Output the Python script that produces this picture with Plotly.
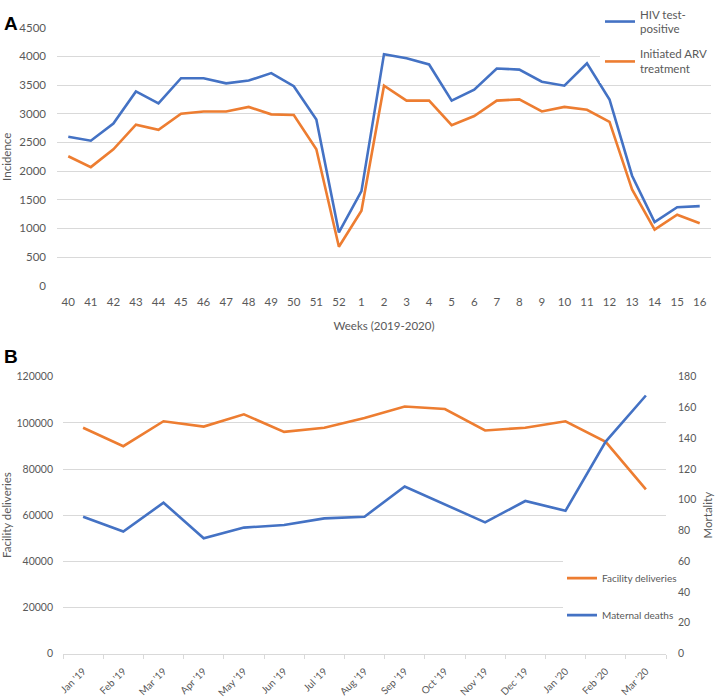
import plotly.graph_objects as go

# ---- Panel A data ----
weeks = ["40", "41", "42", "43", "44", "45", "46", "47", "48", "49", "50", "51", "52",
         "1", "2", "3", "4", "5", "6", "7", "8", "9", "10", "11", "12", "13", "14", "15", "16"]
hiv_positive = [2600, 2530, 2830, 3390, 3180, 3620, 3620, 3530, 3580, 3710, 3480, 2900, 930,
                1650, 4040, 3970, 3860, 3230, 3420, 3790, 3770, 3560, 3490, 3880, 3250, 1920, 1110, 1370, 1390]
arv_initiated = [2260, 2070, 2380, 2810, 2720, 3000, 3040, 3040, 3120, 2990, 2980, 2380, 680,
                 1310, 3490, 3230, 3230, 2800, 2960, 3230, 3250, 3040, 3120, 3070, 2860, 1680, 980, 1240, 1090]

# ---- Panel B data ----
months = ["Jan '19", "Feb '19", "Mar '19", "Apr '19", "May '19", "Jun '19", "Jul '19", "Aug '19",
          "Sep '19", "Oct '19", "Nov '19", "Dec '19", "Jan '20", "Feb '20", "Mar '20"]
facility_deliveries = [97900, 89900, 100700, 98400, 103700, 96100, 97900, 102100,
                       107100, 106000, 96700, 97900, 100700, 91800, 71200]
maternal_deaths = [88.9, 79.3, 98.1, 75.0, 81.9, 83.6, 87.9, 89.0,
                   108.6, 96.9, 85.3, 99.2, 92.8, 137.8, 167.8]

BLUE = "#4472C4"
ORANGE = "#ED7D31"
GRID = "#D9D9D9"
TXT = "#595959"
FONT = "Lato, Open Sans, sans-serif"

W, H = 718, 700
def px_x(p):
    return p / W
def px_y(p):
    return 1 - p / H

fig = go.Figure()

fig.add_trace(go.Scatter(x=weeks, y=hiv_positive, mode="lines", name="HIV test-<br>positive",
                         line=dict(color=BLUE, width=2.6), xaxis="x", yaxis="y",
                         legend="legend", legendgroup="hiv"))
fig.add_trace(go.Scatter(x=weeks, y=arv_initiated, mode="lines", name="Initiated ARV<br>treatment",
                         line=dict(color=ORANGE, width=2.6), xaxis="x", yaxis="y",
                         legend="legend", legendgroup="arv"))

fig.add_trace(go.Scatter(x=months, y=facility_deliveries, mode="lines", name="Facility deliveries",
                         line=dict(color=ORANGE, width=2.6), xaxis="x2", yaxis="y2",
                         legend="legend2", legendgroup="a"))
fig.add_trace(go.Scatter(x=months, y=maternal_deaths, mode="lines", name="Maternal deaths",
                         line=dict(color=BLUE, width=2.6), xaxis="x2", yaxis="y3",
                         legend="legend2", legendgroup="b"))

fig.update_layout(
    width=W, height=H,
    margin=dict(l=0, r=0, t=0, b=0),
    paper_bgcolor="white", plot_bgcolor="white",
    font=dict(family=FONT, color=TXT, size=11),
    xaxis=dict(domain=[px_x(57), px_x(711)], type="category", range=[-0.5, 28.5],
               automargin=False,
               showgrid=False, showline=False, zeroline=False, ticks="",
               tickfont=dict(size=11.5, color=TXT), ticklabelstandoff=8,
               title=dict(text="Weeks (2019-2020)", font=dict(size=11.5, color=TXT), standoff=14),
               anchor="y", fixedrange=True),
    yaxis=dict(domain=[px_y(281), px_y(20)], range=[0, 4500], dtick=500,
               automargin=False,
               showgrid=True, gridcolor=GRID, gridwidth=1, zeroline=False, showline=False,
               tickfont=dict(size=11.5, color=TXT), ticklabelstandoff=10,
               title=dict(text="Incidence", font=dict(size=11.5, color=TXT), standoff=6),
               anchor="x"),
    xaxis2=dict(domain=[px_x(63), px_x(666)], type="category", range=[-0.5, 14.5],
                automargin=False,
                showgrid=False, zeroline=False, showline=True, linecolor=GRID, linewidth=1,
                ticks="outside", tickson="boundaries", ticklen=4, tickcolor=GRID,
                tickangle=-45, tickfont=dict(size=10, color=TXT), ticklabelstandoff=7,
                anchor="y2"),
    yaxis2=dict(domain=[px_y(653), px_y(373)], range=[0, 120000], dtick=20000,
                automargin=False,
                showgrid=True, gridcolor=GRID, gridwidth=1, zeroline=False, showline=False,
                tickfont=dict(size=10.5, color=TXT), ticklabelstandoff=9, tickformat="d",
                title=dict(text="Facility deliveries", font=dict(size=11.5, color=TXT), standoff=6),
                anchor="x2"),
    yaxis3=dict(range=[0, 180], dtick=20, overlaying="y2", side="right",
                automargin=False,
                showgrid=False, zeroline=False, showline=False,
                tickfont=dict(size=10.5, color=TXT), ticklabelstandoff=11,
                title=dict(text="Mortality", font=dict(size=11.5, color=TXT), standoff=8),
                anchor="x2"),
    legend=dict(x=px_x(600), y=px_y(-8), xanchor="left", yanchor="top",
                bgcolor="white", font=dict(size=11.5, color=TXT),
                itemwidth=30, tracegroupgap=7, traceorder="grouped"),
    legend2=dict(x=px_x(562), y=px_y(562), xanchor="left", yanchor="top",
                 bgcolor="rgba(0,0,0,0)", font=dict(size=10, color=TXT),
                 itemwidth=30, tracegroupgap=18, traceorder="grouped"),
    showlegend=True,
    shapes=[
        dict(type="rect", xref="paper", yref="paper", x0=px_x(563), x1=px_x(667),
             y0=px_y(630), y1=px_y(548), fillcolor="white", line=dict(width=0), layer="above"),
    ],
    annotations=[
        dict(text="<b>A</b>", x=px_x(2), y=px_y(3), xref="paper", yref="paper",
             xanchor="left", yanchor="top", showarrow=False,
             font=dict(family="Liberation Sans, Arial, sans-serif", size=19, color="black")),
        dict(text="<b>B</b>", x=px_x(2), y=px_y(340), xref="paper", yref="paper",
             xanchor="left", yanchor="top", showarrow=False,
             font=dict(family="Liberation Sans, Arial, sans-serif", size=19, color="black")),
    ],
)

fig.write_html("out.html", config={"displayModeBar": False},
               post_script="document.body.style.margin='0';document.body.style.overflow='hidden';")
